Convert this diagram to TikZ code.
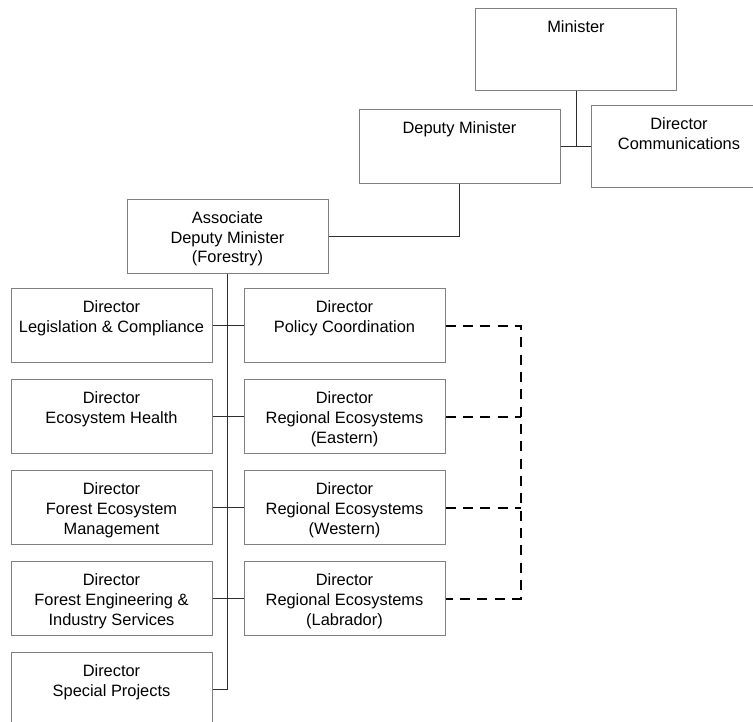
\documentclass[tikz,border=0pt]{standalone}
\usepackage{fontspec}
\setmainfont{Liberation Sans}
\usetikzlibrary{positioning}
\definecolor{boxgray}{RGB}{128,128,128}
\definecolor{linkgray}{RGB}{45,45,45}

\begin{document}
\begin{tikzpicture}[x=0.75pt, y=-0.75pt, node distance=12pt and 23.25pt,
    post/.style={rectangle, draw=boxgray, line width=0.75pt, minimum width=150.75pt, minimum height=55.5pt, inner sep=0pt},
    tall/.style={minimum height=61.5pt},
    title/.style={anchor=north, align=center, inner sep=0pt, yshift=-9.5pt, font=\fontsize{12.3}{14.8}\selectfont},
    link/.style={draw=linkgray, line width=0.75pt},
    liaison/.style={draw=black, line width=1.5pt, dash pattern=on 7.5pt off 5.5pt}]
    \useasboundingbox (0,0) rectangle (753,721);

    \node[post, tall, label={[title]north:Minister}] (min) at (576,49) {};
    \node[post, label={[title]north:Deputy Minister}] (dm) at (459.5,146) {};
    \node[post, tall, minimum width=132pt, label={[title]north:Director\\Communications}] (dc) at (679,146) {};
    \node[post, label={[title]north:Associate\\Deputy Minister\\(Forestry)}] (adm) at (227.5,236) {};

    % left column
    \node[post, label={[title]north:Director\\Legislation \& Compliance}] (leg) at (111.5,325.5) {};
    \node[post, below=of leg, label={[title]north:Director\\Ecosystem Health}] (eh) {};
    \node[post, below=of eh, label={[title]north:Director\\Forest Ecosystem\\Management}] (fem) {};
    \node[post, below=of fem, label={[title]north:Director\\Forest Engineering \&\\Industry Services}] (feis) {};
    \node[post, below=of feis, label={[title]north:Director\\Special Projects}] (sp) {};

    % right column
    \node[post, right=of leg, label={[title]north:Director\\Policy Coordination}] (pc) {};
    \node[post, right=of eh, label={[title]north:Director\\Regional Ecosystems\\(Eastern)}] (ree) {};
    \node[post, right=of fem, label={[title]north:Director\\Regional Ecosystems\\(Western)}] (rew) {};
    \node[post, right=of feis, label={[title]north:Director\\Regional Ecosystems\\(Labrador)}] (rel) {};

    \draw[link] (min.south) -- (min.south |- dm.east);
    \draw[link] (dm.east) -- (dc.west);
    \draw[link] (dm.south) |- (adm.east);
    \draw[link] (adm.south) |- (sp.east);
    \foreach \a/\b in {leg/pc, eh/ree, fem/rew, feis/rel}
        \draw[link] (\a.east) -- (\b.west);

    \draw[liaison] (pc.east) -- ++(75,0) coordinate (bus) |- (rel.east);
    \draw[liaison] (ree.east) -- (ree.east -| bus);
    \draw[liaison] (rew.east) -- (rew.east -| bus);
\end{tikzpicture}
\end{document}
